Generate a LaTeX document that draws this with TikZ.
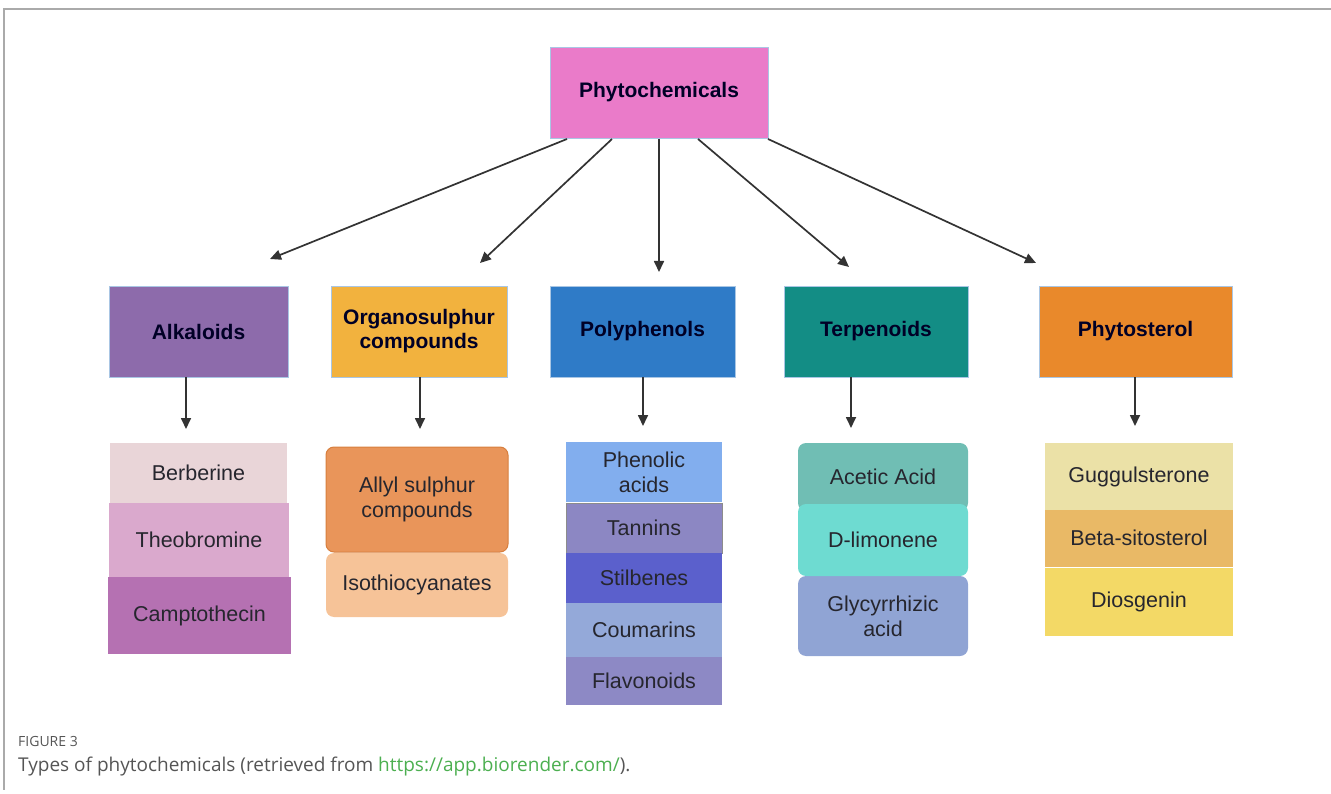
\documentclass[tikz,border=0pt]{standalone}
\usepackage{fontspec}
\setmainfont{Liberation Sans}
\newfontfamily\capfont{Open Sans}
\usetikzlibrary{arrows.meta}
\definecolor{cPhyto}{HTML}{EA7BC9}
\definecolor{cAlk}{HTML}{8D6BAB}
\definecolor{cOrg}{HTML}{F2B23E}
\definecolor{cPoly}{HTML}{2F7BC7}
\definecolor{cTerp}{HTML}{138D85}
\definecolor{cSter}{HTML}{E9892B}
\definecolor{cEdge}{HTML}{A9C6E4}
\definecolor{cBer}{HTML}{E9D5D8}
\definecolor{cTheo}{HTML}{DAA9CD}
\definecolor{cCamp}{HTML}{B571B2}
\definecolor{cAllyl}{HTML}{E9955A}
\definecolor{cAllylE}{HTML}{D77F3E}
\definecolor{cIso}{HTML}{F6C398}
\definecolor{cPhen}{HTML}{82AEEE}
\definecolor{cTan}{HTML}{8C87C3}
\definecolor{cStil}{HTML}{5B60CC}
\definecolor{cCou}{HTML}{94A9D9}
\definecolor{cFla}{HTML}{8D89C5}
\definecolor{cAce}{HTML}{70BEB4}
\definecolor{cLim}{HTML}{6EDBD1}
\definecolor{cGly}{HTML}{90A4D4}
\definecolor{cGug}{HTML}{EBE1A7}
\definecolor{cBeta}{HTML}{E9B966}
\definecolor{cDio}{HTML}{F3D966}
\definecolor{cFrame}{HTML}{AAAAAA}
\definecolor{cTxt}{HTML}{26262E}
\definecolor{cCap}{HTML}{555555}
\definecolor{cLink}{HTML}{4CAF50}
\tikzset{
  headbox/.style={rectangle, draw=cEdge, line width=0.8pt, inner sep=2pt, align=center,
    text=black!85!blue, font=\bfseries\fontsize{21}{24}\selectfont},
  itembox/.style={rectangle, inner sep=2pt, align=center, text=cTxt,
    font=\fontsize{21.5}{25}\selectfont},
  roundbox/.style={itembox, rounded corners=8pt},
  arr/.style={draw=black!80, line width=1.7pt, -{Triangle[length=11pt,width=10pt]}},
}
\begin{document}
\begin{tikzpicture}[x=1pt,y=-1pt]
\useasboundingbox (0,0) rectangle (1331,794);
\draw[cFrame, line width=1.5pt] (1331,9) -- (4,9) -- (4,790);

% top node
\node[headbox, fill=cPhyto, minimum width=218pt, minimum height=91pt] (top) at (659,92.5) {Phytochemicals};

% level 2
\node[headbox, fill=cAlk, minimum width=179pt, minimum height=91pt] (alk) at (198.5,331.5) {Alkaloids};
\node[headbox, fill=cOrg, minimum width=176pt, minimum height=91pt] (org) at (419,331.5) {Organosulphur\\compounds};
\node[headbox, fill=cPoly, minimum width=185pt, minimum height=91pt] (poly) at (642.5,331.5) {Polyphenols};
\node[headbox, fill=cTerp, minimum width=184pt, minimum height=91pt] (terp) at (876,331.5) {Terpenoids};
\node[headbox, fill=cSter, minimum width=193pt, minimum height=91pt] (ster) at (1135.5,331.5) {Phytosterol};

% arrows from top
\coordinate (s1) at (567,139);
\coordinate (s2) at (612,139);
\coordinate (s3) at (659,139);
\coordinate (s4) at (698,139);
\coordinate (s5) at (768,139);
\coordinate (e1) at (270,259);
\coordinate (e2) at (480,263);
\coordinate (e3) at (659,272);
\coordinate (e4) at (849,267);
\coordinate (e5) at (1036,263);
\draw[arr] (s1) -- (e1);
\draw[arr] (s2) -- (e2);
\draw[arr] (s3) -- (e3);
\draw[arr] (s4) -- (e4);
\draw[arr] (s5) -- (e5);

% vertical arrows
\coordinate (v1) at (186,429);
\coordinate (v2) at (420,429);
\coordinate (v3) at (643,426);
\coordinate (v4) at (851,428);
\coordinate (v5) at (1135,426);
\draw[arr] (alk.south -| v1) -- (v1);
\draw[arr] (org.south -| v2) -- (v2);
\draw[arr] (poly.south -| v3) -- (v3);
\draw[arr] (terp.south -| v4) -- (v4);
\draw[arr] (ster.south -| v5) -- (v5);

% Alkaloids items
\node[itembox, fill=cBer, minimum width=177pt, minimum height=60pt] (ber) at (198.5,473) {Berberine};
\node[itembox, fill=cTheo, minimum width=180pt, minimum height=74pt] (theo) at (199,540) {Theobromine};
\node[itembox, fill=cCamp, minimum width=183pt, minimum height=77pt] (camp) at (199.5,615.5) {Camptothecin};

% Organosulphur items
\node[roundbox, fill=cIso, minimum width=182pt, minimum height=64pt] (iso) at (417,585) {Isothiocyanates};
\node[roundbox, fill=cAllyl, draw=cAllylE, line width=1pt, minimum width=182pt, minimum height=105pt] (allyl) at (417,499.5) {Allyl sulphur\\compounds};

% Polyphenols items
\node[itembox, fill=cPhen, minimum width=156pt, minimum height=60pt, font=\fontsize{21.5}{25}\selectfont] (phen) at (644,472) {Phenolic\\acids};
\node[itembox, fill=cTan, draw=black!45, line width=0.6pt, minimum width=156pt, minimum height=50pt] (tan) at (644,528) {Tannins};
\node[itembox, fill=cStil, minimum width=156pt, minimum height=50pt] (stil) at (644,578) {Stilbenes};
\node[itembox, fill=cCou, minimum width=156pt, minimum height=54pt] (cou) at (644,630) {Coumarins};
\node[itembox, fill=cFla, minimum width=156pt, minimum height=48pt] (fla) at (644,681) {Flavonoids};

% Terpenoids items
\node[roundbox, fill=cAce, minimum width=170pt, minimum height=68pt] (ace) at (883,477) {Acetic Acid};
\node[roundbox, fill=cGly, minimum width=170pt, minimum height=80pt] (gly) at (883,616) {Glycyrrhizic\\acid};
\node[roundbox, fill=cLim, minimum width=170pt, minimum height=72pt] (lim) at (883,540) {D-limonene};

% Phytosterol items
\node[itembox, fill=cGug, minimum width=188pt, minimum height=67pt] (gug) at (1139,476.5) {Guggulsterone};
\node[itembox, fill=cBeta, minimum width=188pt, minimum height=57pt] (beta) at (1139,538) {Beta-sitosterol};
\node[itembox, fill=cDio, minimum width=188pt, minimum height=68pt] (dio) at (1139,602) {Diosgenin};

% caption
\node[anchor=base west, inner sep=0pt, text=cCap, font=\capfont\fontsize{14}{16}\selectfont] (fig) at (18,746) {FIGURE 3};
\node[anchor=base west, inner sep=0pt, text=cCap, font=\capfont\fontsize{19}{22}\selectfont] (cap) at (18,771) {Types of phytochemicals (retrieved from \textcolor{cLink}{https://app.biorender.com/}).};
\end{tikzpicture}
\end{document}
